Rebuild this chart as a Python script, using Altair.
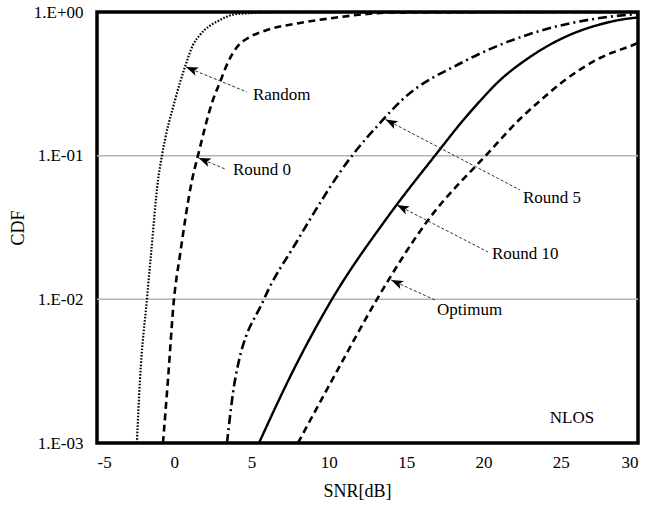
import math
import altair as alt
import pandas as pd

# ---- data ----
random_x = [-2.42, -2.22, -1.77, -1.51, -1.05, -0.80, 0.05, 0.69, 1.21, 1.66, 2.96, 4.06, 7.03, 30.0]
random_y = [0.001, 0.002746, 0.01, 0.02035, 0.06773, 0.1, 0.2441, 0.4143, 0.5892, 0.6917, 0.88, 0.9685, 0.997, 1.0]

round0_x = [-0.73, -0.41, -0.02, 0.37, 1.15, 1.53, 2.50, 2.96, 3.48, 4.06, 4.90, 6.00, 8.13, 10.27, 12.47, 14.15, 20.0, 30.0]
round0_y = [0.001, 0.002746, 0.01, 0.02035, 0.06773, 0.1, 0.2441, 0.3257, 0.4487, 0.5706, 0.6699, 0.7492, 0.8385, 0.9083, 0.9685, 0.993, 0.999, 1.0]

round5_x = [3.41, 3.93, 5.80, 7.87, 11.50, 13.31, 14.73, 18.68, 23.21, 27.54, 30.0]
round5_y = [0.001, 0.002746, 0.01, 0.02467, 0.1, 0.1688, 0.2441, 0.4487, 0.7143, 0.9083, 0.9685]

round10_x = [5.48, 7.68, 10.20, 13.76, 17.00, 18.81, 19.84, 20.88, 23.01, 25.28, 27.41, 29.68, 30.0]
round10_y = [0.001, 0.003171, 0.01, 0.03684, 0.1044, 0.1829, 0.2441, 0.3205, 0.4861, 0.6699, 0.812, 0.9083, 0.915]

optimum_x = [8.00, 10.53, 13.11, 16.28, 20.36, 22.43, 23.72, 25.28, 27.54, 29.68, 30.0]
optimum_y = [0.001, 0.003171, 0.01, 0.034, 0.106, 0.1829, 0.2441, 0.3363, 0.4783, 0.5892, 0.6083]

series_names = ["Random", "Round 0", "Round 5", "Round 10", "Optimum"]
series_x = [random_x, round0_x, round5_x, round10_x, optimum_x]
series_y = [random_y, round0_y, round5_y, round10_y, optimum_y]
series_dash = [[1.6, 1.6], [7, 4.5], [9, 4, 2, 4], [1, 0], [7, 4.5]]
series_width = [2.2, 2.6, 2.6, 2.4, 2.6]

# annotations: arrow tip, arrow tail, label position (data units)
ann_label = ["Random", "Round 0", "Round 5", "Round 10", "Optimum"]
tip_x = [0.76, 1.58, 13.67, 14.41, 14.03]
tip_y = [0.414, 0.0963, 0.1786, 0.04535, 0.01363]
tail_x = [4.70, 3.28, 22.37, 20.30, 16.87]
tail_y = [0.2774, 0.0808, 0.0577, 0.02136, 0.00989]
lab_x = [5.09, 3.80, 22.56, 20.55, 17.0]
lab_y = [0.2644, 0.0795, 0.0507, 0.02068, 0.00843]

grid_values = [0.01, 0.1]
x_ticks = [-5, 0, 5, 10, 15, 20, 25, 30]
y_ticks = [0.001, 0.01, 0.1, 1.0]

W, H = 541, 431
X0, X1 = -5, 30
FONT = "Liberation Serif"

xs = alt.Scale(domain=[X0, X1], nice=False, zero=False)
ys = alt.Scale(type="log", domain=[0.001, 1], nice=False)


def px(x):
    return (x - X0) / (X1 - X0) * W


def py(y):
    return -math.log10(y) / 3 * H


layers = []

# grid lines
grid_df = pd.DataFrame({"g": grid_values})
layers.append(
    alt.Chart(grid_df).mark_rule(color="#b4b4b4", strokeWidth=1.5).encode(
        y=alt.Y("g:Q", scale=ys)
    )
)

# curves
for name, xv, yv, dash, sw in zip(series_names, series_x, series_y, series_dash, series_width):
    df = pd.DataFrame({"x": xv, "y": yv, "s": name})
    layers.append(
        alt.Chart(df).mark_line(
            color="black", strokeWidth=sw, strokeDash=dash, interpolate="monotone", clip=True
        ).encode(
            x=alt.X("x:Q", scale=xs,
                    axis=alt.Axis(values=x_ticks, title="SNR[dB]", grid=False, ticks=False,
                                  domain=False, labelFont=FONT, labelFontSize=17,
                                  labelColor="black", labelPadding=11, titleFont=FONT,
                                  titleFontSize=18, titleFontWeight="normal", titleColor="black",
                                  titleX=260, titleY=39, titleBaseline="top", titleAlign="center",
                                  labelExpr="datum.value < 0 ? '-' + format(-datum.value, 'd') : format(datum.value, 'd')")),
            y=alt.Y("y:Q", scale=ys,
                    axis=alt.Axis(values=y_ticks, title="CDF", grid=False, ticks=False,
                                  domain=False, labelFont=FONT, labelFontSize=17,
                                  labelColor="black", labelPadding=14, titleFont=FONT,
                                  titleFontSize=18, titleFontWeight="normal", titleColor="black",
                                  titlePadding=6,
                                  labelExpr="'1.E' + (datum.value >= 1 ? '+00' : '-0' + format(round(-log(datum.value)/LN10), 'd'))")),
        )
    )

# annotation arrows
angles = []
for tx, ty, sx, sy in zip(tip_x, tip_y, tail_x, tail_y):
    dx = px(tx) - px(sx)
    dy = py(ty) - py(sy)
    ang = math.degrees(math.atan2(dx, -dy)) % 360
    angles.append(ang)

ann_df = pd.DataFrame({
    "label": ann_label, "tx": tip_x, "ty": tip_y, "sx": tail_x, "sy": tail_y,
    "lx": lab_x, "ly": lab_y, "ang": angles,
})

layers.append(
    alt.Chart(ann_df).mark_rule(color="#333333", strokeWidth=1, strokeDash=[3, 2]).encode(
        x=alt.X("tx:Q", scale=xs), y=alt.Y("ty:Q", scale=ys),
        x2="sx:Q", y2="sy:Q",
    )
)
layers.append(
    alt.Chart(ann_df).mark_point(
        shape="M0,0L-0.7,1.9L0,1.45L0.7,1.9Z", filled=True, color="black", opacity=1, size=160
    ).encode(
        x=alt.X("tx:Q", scale=xs), y=alt.Y("ty:Q", scale=ys),
        angle=alt.Angle("ang:Q", scale=None),
    )
)
layers.append(
    alt.Chart(ann_df).mark_text(
        font=FONT, fontSize=17, align="left", baseline="middle", color="black"
    ).encode(
        x=alt.X("lx:Q", scale=xs), y=alt.Y("ly:Q", scale=ys), text="label:N"
    )
)

# NLOS tag
nlos_df = pd.DataFrame({"t": ["NLOS"], "x": [25.73], "y": [0.00149]})
layers.append(
    alt.Chart(nlos_df).mark_text(
        font=FONT, fontSize=17, align="center", baseline="middle", color="black"
    ).encode(x=alt.X("x:Q", scale=xs), y=alt.Y("y:Q", scale=ys), text="t:N")
)

chart = alt.layer(*layers).properties(
    width=W, height=H,
    autosize=alt.AutoSizeParams(type="none"),
    padding={"left": 97, "top": 12, "right": 27, "bottom": 62},
    background="white",
).configure_view(
    stroke="black", strokeWidth=3.5
)

chart.save("out.html", embed_options={"renderer": "svg", "actions": False})
